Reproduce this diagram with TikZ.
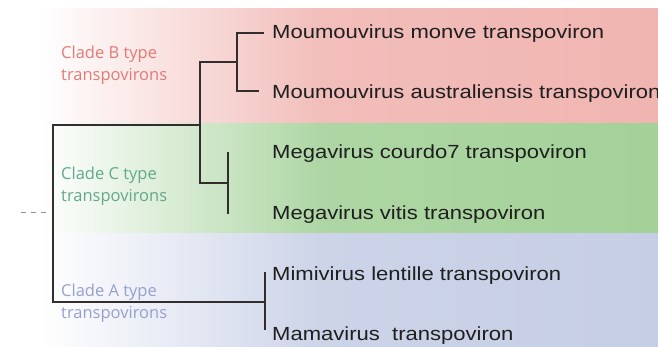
\documentclass[tikz,border=0pt]{standalone}
\usepackage{fontspec}
\newfontfamily\tipfont[FakeStretch=1.16]{Liberation Sans}
\newfontfamily\cladefont{Open Sans}
\definecolor{pinkband}{RGB}{240,181,177}
\definecolor{greenband}{RGB}{163,209,152}
\definecolor{blueband}{RGB}{198,206,229}
\definecolor{cladeB}{RGB}{226,122,116}
\definecolor{cladeC}{RGB}{98,168,138}
\definecolor{cladeA}{RGB}{150,160,205}
\definecolor{treeline}{RGB}{50,46,46}
\tikzset{
  branch/.style={draw=treeline, line width=2pt, line join=miter, line cap=rect},
  tip/.style={anchor=base west, inner sep=0pt, text=black!88, font=\tipfont\fontsize{19}{22}\selectfont},
  cladelbl/.style={anchor=base west, inner sep=0pt, font=\cladefont\fontsize{16.5}{20}\selectfont},
  rootdash/.style={draw=gray!85, line width=0.8pt, dash pattern=on 5pt off 5pt}
}
\begin{document}
\begin{tikzpicture}[x=1pt,y=-1pt]
\useasboundingbox (0,0) rectangle (658,346);
\clip (0,0) rectangle (658,346);
\fill[white] (0,0) rectangle (658,346);
% bands
\shade[left color=white, middle color=pinkband!55, right color=pinkband!88] (40,8.5) rectangle (320.5,123.5);
\shade[left color=pinkband!88, right color=pinkband] (320,8.5) rectangle (658,123.5);
\shade[left color=white, middle color=greenband!55, right color=greenband!88] (40,123.5) rectangle (320.5,233.5);
\shade[left color=greenband!88, right color=greenband] (320,123.5) rectangle (658,233.5);
\shade[left color=white, middle color=blueband!55, right color=blueband!88] (40,233.5) rectangle (320.5,346);
\shade[left color=blueband!88, right color=blueband] (320,233.5) rectangle (658,346);
% clade labels
\node[cladelbl, text=cladeB] (lB1) at (61,58.5) {Clade B type};
\node[cladelbl, text=cladeB] (lB2) at (61,80) {transpovirons};
\node[cladelbl, text=cladeC] (lC1) at (61,179.5) {Clade C type};
\node[cladelbl, text=cladeC] (lC2) at (61,201.5) {transpovirons};
\node[cladelbl, text=cladeA] (lA1) at (61,296.8) {Clade A type};
\node[cladelbl, text=cladeA] (lA2) at (61,318.3) {transpovirons};
% tip labels
\node[tip] (tB1) at (272,38.3) {Moumouvirus monve transpoviron};
\node[tip] (tB2) at (272,98.3) {Moumouvirus australiensis transpoviron};
\node[tip] (tC1) at (272,158.3) {Megavirus courdo7 transpoviron};
\node[tip] (tC2) at (272,219.3) {Megavirus vitis transpoviron};
\node[tip] (tA1) at (272,280) {Mimivirus lentille transpoviron};
\node[tip] (tA2) at (272,340) {Mamavirus\ \ transpoviron};
% tree coordinates
\coordinate (dashstart) at (21,212.5);
\coordinate (rootL) at (52.5,212.5);
\coordinate (rootT) at (52.5,124.5);
\coordinate (rootB) at (52.5,302);
\coordinate (bcT) at (199.5,62);
\coordinate (bcB) at (199.5,183);
\coordinate (bT) at (237,33);
\coordinate (bB) at (237,91);
\coordinate (bTend) at (263,33);
\coordinate (bBend) at (258,91);
\coordinate (cT) at (228,153);
\coordinate (cB) at (228,213);
\coordinate (aT) at (265,273);
\coordinate (aB) at (265,329);
% connectors
\draw[rootdash] (dashstart) -- ([xshift=-3pt]rootL);
\draw[branch] (rootT) -- (rootB);
\draw[branch] (rootT) -| (bcB);
\draw[branch] (bcT) -- (bcT -| bT);
\draw[branch] (bTend) -- (bT) -- (bB) -- (bBend);
\draw[branch] (bcB) -- (bcB -| cT);
\draw[branch] (cT) -- (cB);
\draw[branch] (rootB) -- (rootB -| aT);
\draw[branch] (aT) -- (aB);
\draw[branch] (bcT) -- (rootT -| bcT);
\end{tikzpicture}
\end{document}
